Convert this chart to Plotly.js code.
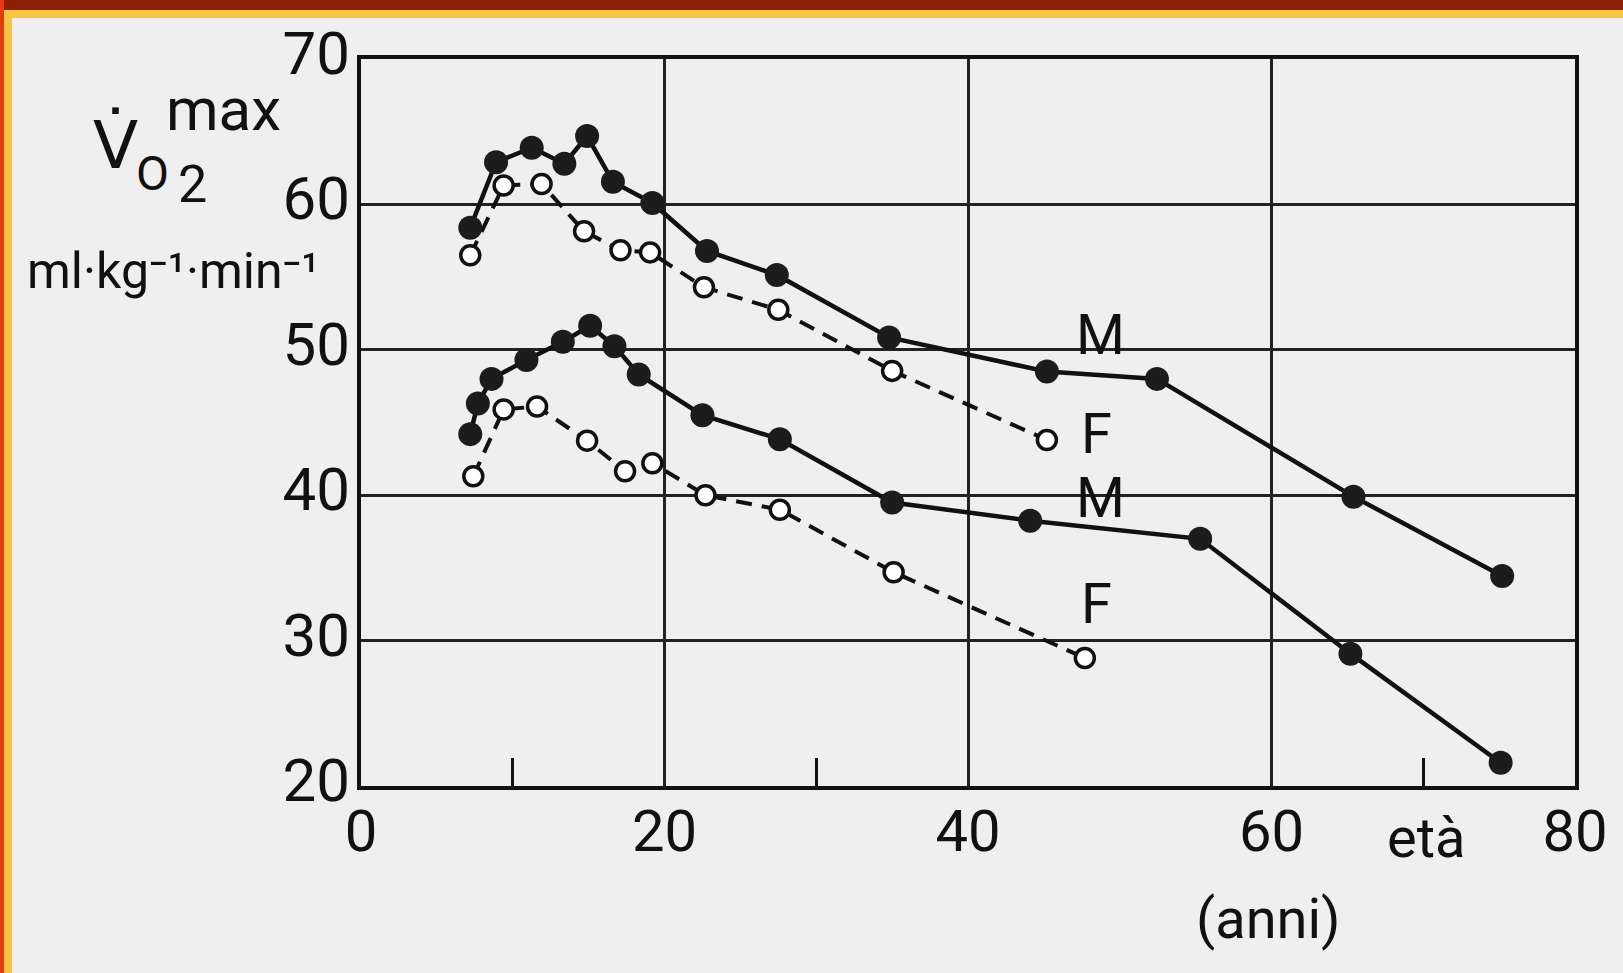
<!DOCTYPE html>
<html>
<head>
<meta charset="utf-8">
<script src="https://cdn.plot.ly/plotly-3.0.1.min.js"></script>
<style>
  html, body { margin: 0; padding: 0; background: #efefef; }
  #wrap { position: relative; width: 1623px; height: 973px; overflow: hidden; }
  #chart { position: absolute; left: 0; top: 0; width: 1623px; height: 973px; }
  .band { position: absolute; }
</style>
</head>
<body>
<div id="wrap">
  <div id="chart"></div>
  <!-- slide frame -->
  <div class="band" style="left:0;top:0;width:1623px;height:10px;background:#8e1f03"></div>
  <div class="band" style="left:0;top:10px;width:1623px;height:8px;background:#f7c443"></div>
  <div class="band" style="left:0;top:0;width:4px;height:973px;background:#e23c10"></div>
  <div class="band" style="left:4px;top:18px;width:8px;height:955px;background:#f7c443"></div>
</div>
<script>
// VO2max (ml·kg-1·min-1) by age (anni): two studies, males (M) and females (F)
const etaM1 = [7.2, 8.9, 11.25, 13.4, 14.9, 16.6, 19.2, 22.8, 27.4, 34.8, 45.2, 52.45, 65.4, 75.2];
const vo2M1 = [58.4, 62.9, 63.9, 62.8, 64.7, 61.55, 60.1, 56.8, 55.15, 50.85, 48.5, 48.0, 39.9, 34.45];

const etaF1 = [7.2, 9.4, 11.9, 14.7, 17.1, 19.05, 22.6, 27.5, 35.0, 45.2];
const vo2F1 = [56.5, 61.3, 61.4, 58.15, 56.85, 56.7, 54.3, 52.75, 48.55, 43.8];

const etaM2 = [7.2, 7.7, 8.6, 10.9, 13.3, 15.1, 16.7, 18.3, 22.5, 27.6, 35.0, 44.1, 55.3, 65.2, 75.1];
const vo2M2 = [44.2, 46.3, 48.0, 49.3, 50.55, 51.65, 50.25, 48.3, 45.5, 43.85, 39.5, 38.25, 37.0, 29.1, 21.6];

const etaF2 = [7.4, 9.4, 11.6, 14.9, 17.4, 19.2, 22.7, 27.6, 35.1, 47.7];
const vo2F2 = [41.3, 45.9, 46.1, 43.75, 41.65, 42.2, 40.0, 39.0, 34.7, 28.8];

const xTicks = [0, 20, 40, 60, 80];
const xMinorTicks = [10, 30, 70];
const yTicks = [20, 30, 40, 50, 60, 70];

const FONT = 'Roboto, "DejaVu Sans", sans-serif';
const INK = '#111111';

function maleTrace(x, y) {
  return {
    x: x, y: y, type: 'scatter', mode: 'lines+markers', hoverinfo: 'skip',
    line: { color: INK, width: 4.5 },
    marker: { symbol: 'circle', size: 24, color: '#1c1c1c', line: { width: 0 } }
  };
}
function femaleTrace(x, y) {
  return {
    x: x, y: y, type: 'scatter', mode: 'lines+markers', hoverinfo: 'skip',
    line: { color: INK, width: 4, dash: '16px,10px' },
    marker: { symbol: 'circle', size: 19, color: '#ffffff', line: { color: INK, width: 3.5 } }
  };
}

const data = [
  femaleTrace(etaF1, vo2F1),
  maleTrace(etaM1, vo2M1),
  femaleTrace(etaF2, vo2F2),
  maleTrace(etaM2, vo2M2)
];

function label(text, x, y) {
  return { text: text, x: x, y: y, xref: 'x', yref: 'y', showarrow: false,
           xanchor: 'center', yanchor: 'middle', font: { family: FONT, size: 56, color: INK } };
}
// text placed relative to the top-left corner of the plot area (pixel shifts)
function corner(text, dx, dy, size) {
  return { text: text, x: 0, y: 1, xref: 'paper', yref: 'paper', showarrow: false,
           xanchor: 'center', yanchor: 'middle', xshift: dx, yshift: dy,
           font: { family: FONT, size: size, color: INK } };
}

const layout = {
  width: 1623, height: 973,
  margin: { l: 361, r: 48, t: 59, b: 187 },
  paper_bgcolor: '#efefef',
  plot_bgcolor: '#efefef',
  showlegend: false,
  font: { family: FONT, color: INK },
  xaxis: {
    range: [0, 80], tickmode: 'array', tickvals: xTicks,
    showgrid: true, gridcolor: '#222', gridwidth: 3, zeroline: false,
    showline: true, linecolor: INK, linewidth: 4, mirror: true,
    ticks: '', ticklabelstandoff: -9,
    tickfont: { family: FONT, size: 58, color: INK },
    minor: { tickmode: 'array', tickvals: xMinorTicks, ticks: 'inside', ticklen: 28,
             tickwidth: 3, tickcolor: INK, showgrid: false }
  },
  yaxis: {
    range: [20, 70], tickmode: 'array', tickvals: yTicks,
    showgrid: true, gridcolor: '#222', gridwidth: 3, zeroline: false,
    showline: true, linecolor: INK, linewidth: 4, mirror: true,
    ticks: '', ticklabelstandoff: -5, ticklabelshift: -6,
    tickfont: { family: FONT, size: 60, color: INK }
  },
  annotations: [
    label('M', 48.7, 51.05),
    label('F', 48.5, 44.2),
    label('M', 48.7, 39.8),
    label('F', 48.5, 32.5),
    { text: 'età', x: 70.2, y: 0, xref: 'x', yref: 'paper', showarrow: false,
      xanchor: 'center', yanchor: 'middle', yshift: -52,
      font: { family: FONT, size: 56, color: INK } },
    { text: '(anni)', x: 59.8, y: 0, xref: 'x', yref: 'paper', showarrow: false,
      xanchor: 'center', yanchor: 'middle', yshift: -133,
      font: { family: FONT, size: 56, color: INK } },
    corner('V\u0307', -246, -86, 66),
    corner('O', -209, -114, 48),
    corner('2', -169, -125, 52),
    corner('max', -138, -50, 60),
    corner('ml·kg\u207B\u00B9·min\u207B\u00B9', -188, -212, 50)
  ]
};

Plotly.newPlot('chart', data, layout, { displayModeBar: false, staticPlot: true });
</script>
</body>
</html>
